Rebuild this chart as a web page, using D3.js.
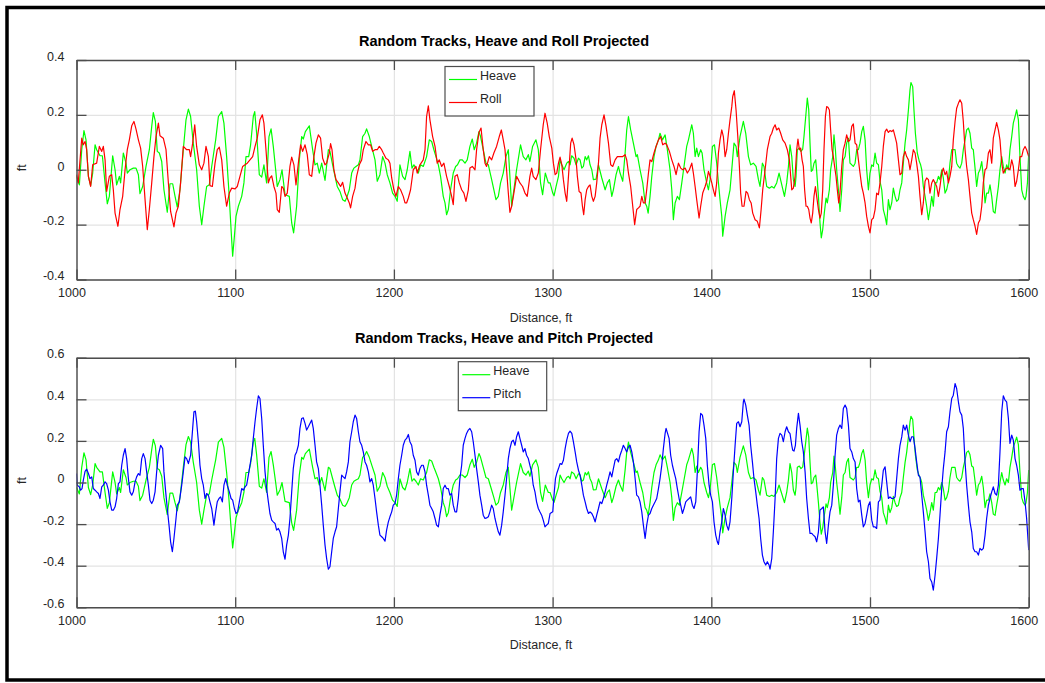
<!DOCTYPE html>
<html>
<head>
<meta charset="utf-8">
<script src="https://cdn.jsdelivr.net/npm/d3@7"></script>
<style>
  body { margin: 0; background: #fff; }
  text { font-family: "Liberation Sans", Arial, Helvetica, sans-serif; }
</style>
</head>
<body>
<svg id="fig" width="1045" height="683"></svg>
<script>
// Tick values for the shared distance axis and the two response axes
const distanceTicks = [1000, 1100, 1200, 1300, 1400, 1500, 1600];
const rollPanelTicks = [-0.4, -0.2, 0, 0.2, 0.4];
const pitchPanelTicks = [-0.6, -0.4, -0.2, 0, 0.2, 0.4, 0.6];

// Heave response [distance ft, displacement ft]
const heave = [
  [1000.0,-0.024],[1001.8,-0.055],[1003.3,0.073],[1004.7,0.143],[1006.0,0.109],[1007.5,-0.024],[1008.9,-0.058],
  [1010.2,-0.012],[1011.7,0.091],[1012.7,0.073],[1014.8,0.051],[1016.3,0.051],[1018.0,-0.048],[1019.4,-0.124],
  [1020.7,-0.097],[1022.8,0.051],[1024.3,0],[1025.3,-0.055],[1027.0,-0.024],[1027.8,-0.048],[1029.5,0.061],
  [1031.2,0.024],[1032.0,-0.012],[1033.7,0],[1035.8,0.006],[1037.5,0.006],[1039.0,-0.018],[1040.0,-0.087],
  [1041.7,-0.061],[1043.8,0.012],[1045.9,0.073],[1047.4,0.158],[1048.4,0.208],[1049.7,0.176],[1050.9,0.067],
  [1052.2,0.061],[1053.7,0.030],[1055.1,-0.073],[1057.2,-0.155],[1058.9,-0.051],[1060.6,-0.051],[1062.1,-0.097],
  [1063.5,-0.136],[1065.2,-0.073],[1067.3,0.073],[1069.0,0.182],[1070.5,0.221],[1071.9,0.194],[1073.6,0.097],
  [1075.7,0],[1077.4,-0.133],[1078.9,-0.2],[1080.3,-0.133],[1082.0,-0.061],[1083.7,-0.055],[1085.2,0.012],
  [1086.2,0.051],[1087.7,0.109],[1089.4,0.194],[1091.5,0.212],[1092.9,0.170],[1094.6,0.048],[1096.1,-0.085],
  [1097.4,-0.218],[1098.4,-0.315],[1099.5,-0.242],[1100.5,-0.170],[1102.0,-0.133],[1104.1,-0.097],[1105.5,-0.048],
  [1106.8,0.048],[1108.5,0.048],[1109.7,0.091],[1111.4,0.194],[1112.3,0.212],[1113.5,0.133],[1115.2,-0.018],
  [1116.7,-0.027],[1118.1,0.018],[1119.8,-0.048],[1121.3,0.121],[1122.6,0.149],[1124.0,0.085],[1125.5,0],
  [1126.5,-0.061],[1128.2,-0.036],[1129.5,0],[1131.4,-0.091],[1134.1,-0.097],[1135.6,-0.194],[1136.8,-0.230],
  [1138.7,-0.133],[1140.4,0.036],[1141.9,0.121],[1142.9,0.112],[1144.2,0.139],[1146.7,0.160],[1148.8,0.073],
  [1150.3,0.018],[1151.7,0.024],[1153.0,-0.012],[1154.5,0.024],[1156.6,-0.039],[1158.7,0.073],[1159.7,0.067],
  [1161.4,0.018],[1162.9,-0.024],[1164.3,-0.061],[1166.0,-0.079],[1167.7,-0.109],[1169.2,-0.115],[1170.2,-0.103],
  [1171.9,-0.073],[1173.4,-0.012],[1174.8,0.006],[1176.1,0.012],[1177.6,0.018],[1178.6,0.036],[1180.3,0.121],
  [1181.8,0.133],[1182.8,0.149],[1184.5,0.121],[1186.0,0.085],[1188.1,0.036],[1189.5,-0.042],[1191.2,-0.018],
  [1192.9,0.048],[1194.4,0.024],[1195.8,-0.018],[1197.5,-0.048],[1199.2,-0.085],[1200.7,-0.097],[1202.1,-0.115],
  [1203.8,0.018],[1205.5,-0.024],[1207.0,-0.036],[1208.4,0],[1210.1,0.067],[1211.4,0.006],[1212.6,0.018],
  [1213.9,0.006],[1215.4,-0.012],[1216.8,0.018],[1218.5,0.012],[1220.6,0.048],[1222.3,0.109],[1223.8,0.103],
  [1225.2,0.073],[1226.5,0.048],[1228.0,0.018],[1229.4,-0.024],[1231.1,-0.097],[1232.2,-0.121],[1233.2,-0.164],
  [1234.3,-0.145],[1235.7,-0.073],[1237.4,-0.012],[1238.9,0.012],[1240.1,0.018],[1241.6,0.036],[1243.1,0.036],
  [1244.8,0.024],[1246.2,0.036],[1247.9,0.085],[1249.4,0.112],[1250.6,0.073],[1252.1,0.097],[1253.6,0.139],
  [1254.6,0.121],[1256.3,0.073],[1258.0,0.024],[1259.5,0.018],[1261.6,-0.036],[1263.0,-0.073],[1264.3,-0.109],
  [1265.8,-0.097],[1267.2,-0.048],[1268.9,-0.012],[1270.6,0.048],[1272.1,0.073],[1274.2,-0.133],[1277.3,0],
  [1279.8,0.091],[1281.5,0.048],[1283.2,0.036],[1284.7,0.055],[1285.7,0.030],[1287.4,0.085],[1289.5,0.109],
  [1291.0,0.073],[1292.4,-0.048],[1293.7,-0.091],[1295.4,-0.012],[1297.3,-0.048],[1298.4,-0.048],[1300.1,-0.085],
  [1300.9,-0.095],[1302.2,-0.061],[1303.7,-0.024],[1304.7,0.036],[1305.8,0.018],[1307.2,0],[1308.9,0.024],
  [1310.0,0.030],[1311.0,0.018],[1312.0,0.051],[1313.5,0.042],[1314.8,0.018],[1316.3,0.042],[1317.3,0.036],
  [1318.4,0.006],[1319.4,0.012],[1320.5,0.048],[1321.5,0.036],[1322.6,0.051],[1323.6,0.018],[1324.7,0],
  [1325.7,-0.036],[1327.4,-0.034],[1328.9,0.018],[1331.0,-0.030],[1333.1,-0.073],[1334.5,-0.048],[1335.8,-0.036],
  [1337.3,-0.097],[1338.3,-0.073],[1340.0,-0.018],[1341.5,0.012],[1342.5,-0.012],[1344.2,-0.042],[1345.7,0.061],
  [1346.7,0.145],[1347.8,0.194],[1349.2,0.145],[1350.9,0.097],[1352.6,0.048],[1353.4,0.055],[1355.1,0],
  [1356.8,-0.048],[1358.3,-0.121],[1359.3,-0.133],[1360.2,-0.158],[1361.4,-0.097],[1362.5,-0.024],[1363.9,0.048],
  [1365.2,0.085],[1366.7,0.109],[1367.7,0.133],[1369.2,0.109],[1370.9,0.127],[1372.3,0.073],[1374.0,0],
  [1375.1,-0.073],[1376.1,-0.182],[1377.2,-0.121],[1378.6,-0.097],[1379.9,-0.109],[1381.4,-0.048],[1382.8,0.012],
  [1384.5,0.085],[1385.6,0.109],[1387.7,0.164],[1388.7,0.133],[1389.8,0.048],[1390.8,0.079],[1391.9,0.048],
  [1393.3,0.073],[1394.2,0.061],[1395.4,0],[1397.1,-0.048],[1398.2,-0.073],[1399.2,-0.036],[1400.7,0.085],
  [1402.0,0.091],[1403.4,0.024],[1404.5,-0.048],[1405.5,-0.109],[1406.6,-0.170],[1407.2,-0.242],[1408.7,-0.170],
  [1410.1,-0.121],[1411.8,-0.073],[1412.9,0],[1414.3,0.097],[1415.6,0.085],[1416.4,0.048],[1418.1,0.121],
  [1420.2,0.176],[1421.7,0.133],[1423.4,0.048],[1424.8,0.018],[1426.5,0.024],[1428.2,0.012],[1429.7,-0.036],
  [1430.7,-0.061],[1432.2,0.024],[1433.2,0.012],[1434.9,-0.061],[1436.6,-0.067],[1438.1,-0.061],[1439.5,-0.067],
  [1441.2,-0.048],[1442.7,-0.012],[1443.9,-0.042],[1446.1,-0.097],[1447.5,-0.048],[1448.6,0.012],[1449.6,0.091],
  [1450.7,0.048],[1451.7,-0.036],[1452.8,-0.061],[1453.4,-0.024],[1454.2,0.073],[1455.5,0.079],[1456.5,0.067],
  [1457.6,0.075],[1458.4,0.121],[1459.5,0.194],[1460.5,0.261],[1461.4,0.218],[1462.2,0.097],[1463.0,-0.006],
  [1463.9,0],[1464.7,0.024],[1465.8,0.036],[1466.4,-0.006],[1467.5,-0.097],[1468.5,-0.194],[1469.3,-0.248],
  [1470.2,-0.218],[1471.2,-0.158],[1472.3,-0.103],[1473.1,-0.121],[1474.4,-0.073],[1475.2,0],[1476.5,0.048],
  [1477.3,0.127],[1478.2,0.073],[1479.0,0],[1480.1,-0.073],[1481.1,-0.152],[1482.2,-0.073],[1483.2,0.036],
  [1484.3,0.048],[1485.3,0.097],[1486.4,0.115],[1487.4,0.024],[1488.5,0.018],[1489.5,0.012],[1490.6,0.024],
  [1491.6,0.073],[1492.7,0.073],[1493.7,0.097],[1494.8,0.139],[1495.8,0.158],[1496.9,0.109],[1497.9,0],
  [1499.0,-0.073],[1500.0,-0.012],[1501.1,0.018],[1502.1,0.012],[1503.2,0.061],[1504.2,0.024],[1505.3,0.018],
  [1506.3,-0.042],[1507.4,-0.073],[1508.4,-0.145],[1509.5,-0.170],[1510.5,-0.200],[1511.6,-0.109],[1512.6,-0.145],
  [1513.7,-0.121],[1514.7,-0.067],[1515.8,-0.097],[1516.8,-0.115],[1517.9,-0.109],[1518.9,-0.073],[1520.0,-0.048],
  [1521.0,0.024],[1522.1,0.097],[1523.1,0.145],[1524.2,0.218],[1525.2,0.291],[1525.8,0.318],[1526.9,0.303],
  [1527.7,0.218],[1528.6,0.133],[1529.8,0.061],[1531.1,0.030],[1531.9,0.018],[1532.6,0],[1533.6,-0.061],
  [1534.7,-0.097],[1535.7,-0.133],[1536.8,-0.182],[1537.8,-0.145],[1538.9,-0.097],[1539.9,-0.133],[1541.0,-0.048],
  [1542.0,-0.048],[1543.1,-0.024],[1544.1,-0.036],[1545.2,0],[1546.2,-0.030],[1547.3,-0.085],[1548.3,-0.073],
  [1549.4,-0.042],[1550.4,0.024],[1551.5,0.073],[1552.5,0.073],[1553.6,0.073],[1554.6,0.024],[1555.7,0.012],
  [1556.7,0.006],[1557.8,0.024],[1558.8,0.073],[1559.9,0.109],[1560.9,0.145],[1562.0,0.152],[1563.0,0.133],
  [1564.1,0.079],[1565.1,0.073],[1566.2,0.006],[1567.2,-0.061],[1568.3,-0.012],[1569.3,0],[1570.4,0.030],
  [1571.4,-0.024],[1572.5,-0.121],[1573.5,-0.085],[1574.6,-0.085],[1575.6,-0.055],[1576.7,-0.097],[1577.7,-0.152],
  [1578.8,-0.158],[1579.8,-0.109],[1580.9,-0.061],[1581.9,0],[1583.0,0.048],[1584.0,0.012],[1585.1,-0.012],
  [1586.1,0.018],[1587.2,0],[1588.2,0.073],[1589.3,0.121],[1590.3,0.170],[1591.4,0.194],[1592.4,0.218],
  [1593.5,0.182],[1594.5,0.048],[1595.6,-0.073],[1596.6,-0.097],[1597.7,-0.109],[1598.3,-0.097],[1599.2,-0.048],
  [1600.0,0.060]
];

// Roll response [distance ft, displacement ft]
const roll = [
  [1000.0,-0.018],[1001.1,-0.048],[1003.3,0.115],[1004.3,0.091],[1005.4,0.103],[1006.4,0.073],[1007.5,-0.024],
  [1008.9,-0.061],[1010.2,0.018],[1012.7,0.024],[1014.4,0.085],[1015.9,0.067],[1016.9,0.085],[1018.0,0.036],
  [1019.0,-0.079],[1020.7,-0.024],[1022.2,-0.018],[1023.2,-0.073],[1024.3,-0.158],[1026.1,-0.206],[1027.4,-0.145],
  [1029.1,-0.097],[1030.6,0],[1032.0,0.073],[1033.3,0.109],[1034.8,0.160],[1036.2,0.176],[1037.5,0.148],
  [1039.0,0.109],[1040.4,0.079],[1041.7,0.012],[1043.2,-0.109],[1044.6,-0.218],[1045.9,-0.145],[1047.4,-0.048],
  [1048.8,0.048],[1050.1,0.121],[1051.6,0.170],[1052.6,0.124],[1054.7,0.115],[1056.4,0.073],[1057.9,-0.048],
  [1059.3,-0.152],[1061.4,-0.208],[1062.7,-0.158],[1064.2,-0.133],[1065.6,-0.048],[1067.3,0.085],[1069.4,0.073],
  [1071.1,0.073],[1071.9,0.048],[1073.2,0.097],[1074.5,0.164],[1075.7,0.085],[1077.4,0.018],[1078.9,0],
  [1080.3,0.024],[1081.6,0.085],[1083.1,0.048],[1084.1,-0.058],[1085.6,-0.061],[1087.3,0.024],[1088.7,0.073],
  [1090.0,0.082],[1091.5,0.036],[1092.9,-0.061],[1094.6,-0.133],[1096.3,-0.085],[1097.8,-0.067],[1099.9,-0.070],
  [1101.3,-0.061],[1103.0,-0.024],[1104.7,0.012],[1106.2,0.018],[1107.6,0.024],[1109.3,0.036],[1111.0,0.048],
  [1112.5,0.085],[1113.9,0.115],[1115.6,0.182],[1117.1,0.200],[1118.1,0.170],[1119.4,0.073],[1120.9,-0.048],
  [1121.9,-0.030],[1123.0,-0.022],[1124.4,-0.061],[1125.7,-0.085],[1126.5,-0.145],[1127.8,-0.155],[1129.3,-0.061],
  [1130.3,-0.067],[1131.4,-0.097],[1132.8,-0.085],[1134.5,0.012],[1135.6,0.046],[1137.0,0.018],[1138.3,-0.055],
  [1139.8,0.024],[1141.2,0.091],[1142.5,0.067],[1144.0,0.091],[1145.4,0.055],[1146.7,-0.018],[1148.2,-0.024],
  [1149.6,0.048],[1150.9,0.097],[1152.4,0.127],[1153.8,0.115],[1155.1,0.042],[1156.6,0.018],[1157.6,0.024],
  [1159.3,0.061],[1160.1,0.095],[1161.0,0.073],[1162.2,0],[1163.5,-0.036],[1165.0,-0.048],[1166.4,-0.061],
  [1167.7,-0.046],[1169.2,-0.085],[1170.6,-0.103],[1171.9,-0.121],[1172.7,-0.139],[1174.0,-0.097],[1175.5,-0.067],
  [1176.5,-0.024],[1178.2,0.018],[1179.7,0.036],[1180.7,0.073],[1182.4,0.103],[1183.9,0.091],[1185.3,0.091],
  [1186.6,0.067],[1188.1,0.073],[1189.5,0.073],[1190.8,0.085],[1192.3,0.073],[1193.3,0.061],[1195.0,0.042],
  [1196.5,0.036],[1197.5,0.024],[1198.6,-0.030],[1200.0,-0.073],[1201.3,-0.097],[1202.8,-0.061],[1204.2,-0.073],
  [1205.9,-0.097],[1207.0,-0.121],[1208.0,-0.121],[1209.1,-0.103],[1210.5,-0.073],[1212.2,0],[1213.9,0.012],
  [1214.7,-0.012],[1216.4,0.018],[1218.5,0.036],[1219.6,0.073],[1220.6,0.194],[1221.7,0.233],[1222.7,0.182],
  [1224.4,0.121],[1225.9,0.085],[1227.3,0.024],[1228.6,0.036],[1230.1,0.012],[1231.5,0.024],[1233.2,-0.024],
  [1234.9,-0.061],[1236.4,-0.097],[1237.4,-0.127],[1238.5,-0.024],[1239.9,-0.018],[1241.2,-0.048],[1242.7,-0.073],
  [1244.1,-0.085],[1245.4,-0.115],[1246.9,-0.073],[1247.9,0.006],[1249.4,0.012],[1251.1,0],[1252.1,0.073],
  [1253.6,0.136],[1254.9,0.152],[1256.3,0.073],[1257.4,0.024],[1258.4,0.012],[1260.1,0.048],[1261.6,0.036],
  [1263.0,0.061],[1264.7,0.085],[1266.4,0.121],[1267.7,0.145],[1268.9,0.109],[1270.0,0.073],[1271.0,0],
  [1272.1,-0.085],[1273.1,-0.155],[1274.2,-0.133],[1275.6,-0.085],[1277.3,-0.024],[1278.4,-0.036],[1279.4,-0.048],
  [1281.1,-0.061],[1282.6,-0.085],[1284.0,-0.097],[1285.7,-0.024],[1286.8,0.006],[1287.8,-0.024],[1289.5,-0.036],
  [1291.0,-0.012],[1292.4,0.073],[1294.1,0.164],[1295.2,0.206],[1296.6,0.170],[1297.9,0.121],[1299.5,0.079],
  [1300.5,0.024],[1301.6,-0.018],[1302.6,-0.012],[1303.7,0.024],[1304.7,0.046],[1305.8,0.018],[1306.8,-0.036],
  [1307.9,-0.085],[1308.9,-0.115],[1310.0,-0.024],[1311.4,0.097],[1312.3,0.115],[1313.5,0.091],[1314.8,0.036],
  [1315.6,-0.024],[1316.7,-0.079],[1317.9,-0.085],[1318.8,-0.133],[1319.6,-0.164],[1320.5,-0.109],[1321.5,-0.073],
  [1322.6,-0.061],[1323.6,-0.055],[1324.7,-0.097],[1325.7,-0.115],[1326.8,-0.097],[1327.8,-0.048],[1328.9,0.024],
  [1329.9,0.115],[1331.0,0.164],[1332.4,0.200],[1333.7,0.158],[1335.2,0.097],[1336.6,0.018],[1337.9,0.012],
  [1339.4,0.036],[1340.8,0.048],[1342.5,0.048],[1344.2,0.048],[1345.7,0.055],[1346.7,0.036],[1347.8,-0.012],
  [1349.2,-0.061],[1350.5,-0.133],[1351.7,-0.200],[1353.0,-0.145],[1354.1,-0.139],[1355.1,-0.133],[1356.2,-0.097],
  [1357.2,-0.121],[1358.3,-0.121],[1359.3,-0.073],[1360.4,-0.012],[1361.4,0.036],[1362.5,0.030],[1363.9,0.061],
  [1365.2,0.085],[1366.7,0.109],[1368.1,0.121],[1369.4,0.091],[1370.9,0.097],[1371.9,0.091],[1373.6,0.067],
  [1375.1,0.036],[1376.5,0.012],[1377.8,-0.018],[1379.3,0.024],[1380.7,0.006],[1382.0,0],[1383.5,0.006],
  [1384.9,-0.012],[1386.2,0],[1387.7,0.024],[1388.7,-0.012],[1389.8,-0.061],[1390.8,-0.109],[1392.3,-0.176],
  [1393.3,-0.133],[1394.6,-0.085],[1396.1,-0.061],[1397.1,-0.042],[1398.2,-0.006],[1399.2,-0.024],[1400.3,-0.048],
  [1401.3,-0.073],[1402.4,-0.097],[1403.4,-0.048],[1404.5,0.061],[1405.5,0.109],[1406.6,0.145],[1407.6,0.121],
  [1408.7,0.048],[1409.7,0.073],[1410.8,0.133],[1411.8,0.182],[1412.9,0.230],[1413.5,0.267],[1414.5,0.288],
  [1415.6,0.218],[1416.7,0.121],[1417.7,0.012],[1418.5,-0.085],[1419.4,-0.133],[1420.6,-0.133],[1421.9,-0.079],
  [1422.9,-0.085],[1424.0,-0.109],[1425.1,-0.121],[1426.1,-0.158],[1427.6,-0.182],[1429.0,-0.188],[1430.3,-0.212],
  [1431.4,-0.145],[1432.4,-0.073],[1433.9,0],[1435.3,0.073],[1437.0,0.121],[1438.1,0.133],[1439.1,0.152],
  [1440.2,0.164],[1441.2,0.145],[1442.5,0.152],[1443.7,0.133],[1445.0,0.109],[1446.5,0.097],[1447.9,0.073],
  [1449.2,0.036],[1450.7,-0.073],[1451.7,-0.067],[1452.8,-0.024],[1453.8,0.073],[1454.6,0.112],[1455.5,0.073],
  [1456.3,0.079],[1457.2,0.036],[1458.0,0.012],[1458.8,-0.073],[1459.7,-0.133],[1460.5,-0.133],[1461.4,-0.145],
  [1462.2,-0.176],[1463.0,-0.194],[1463.9,-0.158],[1464.7,-0.097],[1465.6,-0.061],[1466.4,-0.097],[1467.5,-0.145],
  [1468.5,-0.176],[1469.3,-0.158],[1470.2,-0.073],[1471.0,0.073],[1471.9,0.194],[1472.7,0.230],[1473.5,0.228],
  [1474.4,0.218],[1475.2,0.145],[1476.1,0.073],[1476.9,0.048],[1477.7,0.012],[1478.6,-0.024],[1479.4,-0.073],
  [1480.3,-0.121],[1481.1,-0.085],[1482.2,0.012],[1483.2,0.073],[1484.3,0.097],[1485.3,0.127],[1486.4,0.103],
  [1487.4,0.109],[1488.5,0.158],[1489.5,0.167],[1490.6,0.097],[1491.6,0.091],[1492.7,0.036],[1493.7,-0.012],
  [1494.8,-0.061],[1495.8,-0.085],[1496.9,-0.121],[1497.9,-0.170],[1499.0,-0.206],[1500.0,-0.230],[1501.1,-0.182],
  [1502.1,-0.176],[1503.2,-0.145],[1504.2,-0.085],[1505.3,-0.091],[1506.3,-0.048],[1507.4,0.012],[1508.4,0.085],
  [1509.5,0.139],[1510.5,0.148],[1511.6,0.136],[1512.6,0.143],[1513.7,0.139],[1514.7,0.145],[1515.8,0.121],
  [1516.8,0.097],[1517.9,0.036],[1518.9,-0.018],[1520.0,-0.012],[1521.0,0.048],[1522.1,0.067],[1523.1,0.048],
  [1524.2,0.036],[1525.2,0],[1526.3,0.036],[1527.3,0.073],[1528.4,0.061],[1529.4,0.024],[1530.5,-0.024],
  [1531.5,-0.097],[1532.6,-0.164],[1533.6,-0.121],[1534.7,-0.042],[1535.7,-0.030],[1536.8,-0.036],[1537.8,-0.085],
  [1538.9,-0.048],[1539.9,-0.036],[1541.0,-0.048],[1542.0,-0.061],[1543.1,-0.097],[1544.1,-0.061],[1545.2,-0.012],
  [1546.2,0.006],[1547.3,-0.018],[1548.3,-0.006],[1549.4,-0.048],[1550.4,-0.024],[1551.5,0.012],[1552.5,0.109],
  [1553.6,0.176],[1554.6,0.224],[1555.7,0.242],[1556.7,0.255],[1557.8,0.242],[1558.8,0.176],[1559.9,0.073],
  [1560.9,0.012],[1562.0,-0.036],[1563.0,-0.097],[1564.1,-0.158],[1565.1,-0.182],[1566.2,-0.206],[1567.2,-0.236],
  [1568.3,-0.194],[1569.3,-0.182],[1570.4,-0.133],[1571.4,-0.048],[1572.5,0],[1573.5,0.006],[1574.6,0.061],
  [1575.6,0.073],[1576.7,0.024],[1577.7,0.115],[1578.8,0.145],[1579.8,0.172],[1580.9,0.145],[1581.9,0.109],
  [1583.0,0.024],[1584.0,-0.012],[1585.1,0],[1586.1,0.006],[1587.2,0.006],[1588.2,0],[1589.3,0.036],
  [1590.3,0.012],[1591.4,-0.061],[1592.4,-0.042],[1593.5,0],[1594.5,0.048],[1595.6,0.048],[1596.6,0.073],
  [1597.7,0.085],[1598.7,0.073],[1600.0,0.048]
];

// Pitch response [distance ft, displacement ft]
const pitch = [
  [1000.0,0.043],[1000.5,-0.013],[1001.8,-0.021],[1002.6,-0.037],[1003.5,-0.029],[1004.3,0.011],[1005.4,0.054],
  [1006.4,0.064],[1007.5,0.043],[1008.5,0.019],[1009.6,0.027],[1010.6,-0.029],[1011.7,-0.037],[1012.7,-0.045],
  [1013.8,-0.053],[1014.8,-0.077],[1015.9,-0.021],[1016.9,-0.013],[1018.0,0.003],[1019.0,-0.005],[1020.1,-0.037],
  [1021.1,-0.093],[1022.2,-0.133],[1023.2,-0.133],[1024.3,-0.117],[1025.3,-0.077],[1026.4,-0.005],[1027.4,0.003],
  [1028.5,0.083],[1029.5,0.131],[1030.6,0.163],[1031.6,0.115],[1032.7,0.019],[1033.7,-0.045],[1034.8,-0.061],
  [1035.8,-0.045],[1036.9,0.003],[1037.9,0.027],[1039.0,0.043],[1040.0,0.035],[1041.1,0.115],[1042.1,0.139],
  [1043.2,0.115],[1044.2,0.051],[1045.3,-0.013],[1046.3,-0.085],[1047.4,-0.101],[1048.4,-0.085],[1049.5,-0.045],
  [1050.5,0.051],[1051.6,0.131],[1053.0,0.179],[1054.3,0.163],[1055.1,0.051],[1056.2,-0.045],[1057.2,-0.125],
  [1058.3,-0.205],[1059.3,-0.285],[1060.4,-0.333],[1061.4,-0.269],[1062.7,-0.173],[1063.5,-0.109],[1064.8,-0.093],
  [1066.3,-0.013],[1067.3,0.051],[1068.4,0.123],[1069.4,0.115],[1070.5,0.091],[1071.9,0.131],[1073.2,0.260],
  [1074.0,0.340],[1074.9,0.343],[1075.7,0.292],[1076.8,0.196],[1077.8,0.083],[1078.9,0.019],[1079.9,-0.013],
  [1081.0,-0.077],[1082.0,-0.053],[1083.1,-0.061],[1084.1,-0.093],[1085.2,-0.125],[1086.2,-0.181],[1086.6,-0.205],
  [1087.7,-0.141],[1088.7,-0.093],[1089.8,-0.077],[1090.8,-0.069],[1091.9,-0.093],[1092.9,-0.013],[1094.0,0.019],
  [1095.0,-0.013],[1096.3,-0.045],[1097.4,-0.077],[1098.4,-0.085],[1099.5,-0.125],[1100.5,-0.149],[1101.5,-0.141],
  [1102.6,-0.093],[1104.1,-0.029],[1105.1,-0.037],[1106.2,-0.021],[1107.2,-0.013],[1108.3,0.035],[1109.3,0.083],
  [1110.4,0.131],[1111.4,0.212],[1112.5,0.292],[1113.5,0.356],[1114.6,0.417],[1115.6,0.404],[1116.7,0.308],
  [1117.7,0.179],[1118.8,0.051],[1119.8,-0.029],[1120.9,-0.093],[1121.9,-0.149],[1123.0,-0.181],[1124.0,-0.189],
  [1125.1,-0.197],[1126.1,-0.229],[1127.2,-0.221],[1128.2,-0.237],[1129.3,-0.269],[1130.3,-0.333],[1131.4,-0.369],
  [1132.4,-0.301],[1133.5,-0.253],[1134.5,-0.173],[1135.6,-0.045],[1136.6,0.067],[1137.7,0.131],[1138.7,0.147],
  [1139.8,0.179],[1140.8,0.260],[1141.9,0.308],[1142.9,0.311],[1144.0,0.284],[1145.0,0.252],[1146.1,0.268],
  [1147.1,0.284],[1148.2,0.300],[1149.2,0.260],[1150.3,0.179],[1151.3,0.099],[1152.4,0.067],[1153.4,-0.013],
  [1154.5,-0.109],[1155.5,-0.205],[1156.6,-0.301],[1157.6,-0.365],[1158.7,-0.417],[1159.7,-0.405],[1160.8,-0.333],
  [1161.8,-0.269],[1162.9,-0.237],[1163.9,-0.213],[1165.0,-0.125],[1166.0,-0.045],[1167.1,0.035],[1168.1,0.027],
  [1169.2,0.019],[1170.2,0.051],[1171.3,0.099],[1172.3,0.196],[1173.4,0.244],[1174.4,0.292],[1175.5,0.324],
  [1176.5,0.308],[1177.6,0.244],[1178.6,0.196],[1179.7,0.179],[1180.7,0.147],[1181.8,0.099],[1182.8,0.083],
  [1183.9,0.051],[1184.9,0.003],[1186.0,0.019],[1187.0,-0.013],[1188.1,-0.077],[1189.1,-0.141],[1190.2,-0.205],
  [1191.2,-0.253],[1192.3,-0.261],[1193.3,-0.269],[1194.4,-0.282],[1195.4,-0.229],[1196.5,-0.189],[1197.5,-0.165],
  [1198.6,-0.141],[1199.6,-0.109],[1200.7,-0.101],[1201.7,-0.061],[1202.8,0.019],[1203.8,0.083],[1204.9,0.131],
  [1205.9,0.179],[1207.0,0.204],[1208.0,0.212],[1209.1,0.231],[1210.1,0.196],[1211.2,0.179],[1212.2,0.131],
  [1213.3,0.107],[1214.3,0.051],[1215.4,0.035],[1216.4,0.067],[1217.5,0.083],[1218.5,0.083],[1219.6,0.051],
  [1220.6,-0.013],[1221.7,-0.061],[1222.7,-0.109],[1223.8,-0.125],[1224.8,-0.141],[1225.9,-0.173],[1226.9,-0.205],
  [1228.0,-0.213],[1229.0,-0.157],[1230.1,-0.109],[1231.1,-0.029],[1232.2,-0.013],[1233.2,-0.029],[1234.3,-0.029],
  [1235.3,-0.061],[1236.4,-0.053],[1237.4,-0.109],[1238.5,-0.141],[1239.5,-0.141],[1240.6,-0.077],[1241.6,0.019],
  [1242.7,0.083],[1243.7,0.179],[1244.8,0.212],[1245.8,0.236],[1246.9,0.252],[1247.9,0.260],[1249.0,0.244],
  [1250.0,0.196],[1251.1,0.131],[1252.1,0.067],[1253.2,0.003],[1254.2,-0.061],[1255.3,-0.109],[1256.3,-0.157],
  [1257.4,-0.173],[1258.4,-0.170],[1259.5,-0.165],[1260.5,-0.141],[1261.6,-0.109],[1262.6,-0.125],[1263.7,-0.173],
  [1264.7,-0.205],[1265.8,-0.237],[1266.8,-0.253],[1267.9,-0.205],[1268.9,-0.141],[1270.0,-0.061],[1271.0,0.019],
  [1272.1,0.115],[1273.1,0.163],[1274.2,0.196],[1275.2,0.204],[1276.3,0.179],[1277.3,0.220],[1278.4,0.244],
  [1279.4,0.212],[1280.5,0.179],[1281.5,0.147],[1282.6,0.163],[1283.6,0.131],[1284.7,0.115],[1285.7,0.083],
  [1286.8,0.051],[1287.8,-0.013],[1288.9,-0.045],[1289.9,-0.093],[1291.0,-0.125],[1292.0,-0.141],[1293.1,-0.157],
  [1294.1,-0.181],[1295.2,-0.213],[1296.2,-0.205],[1297.3,-0.197],[1298.4,-0.149],[1300.1,-0.141],[1300.9,-0.061],
  [1301.8,0.019],[1302.6,0.043],[1303.7,0.067],[1304.7,0.091],[1305.8,0.087],[1306.8,0.107],[1307.9,0.163],
  [1308.9,0.204],[1310.0,0.236],[1311.0,0.247],[1312.1,0.236],[1313.1,0.196],[1314.2,0.147],[1315.2,0.099],
  [1316.3,0.059],[1317.3,0.035],[1318.4,-0.013],[1319.4,-0.061],[1320.5,-0.093],[1321.5,-0.125],[1322.6,-0.149],
  [1323.6,-0.141],[1324.7,-0.149],[1325.7,-0.165],[1326.8,-0.189],[1327.8,-0.157],[1328.9,-0.125],[1329.9,-0.093],
  [1331.0,-0.101],[1332.0,-0.077],[1333.1,-0.045],[1334.1,-0.013],[1335.2,0.019],[1336.2,0.051],[1337.3,0.027],
  [1338.3,0.067],[1339.4,0.107],[1340.4,0.115],[1341.5,0.099],[1342.5,0.131],[1343.6,0.155],[1344.6,0.179],
  [1345.7,0.163],[1346.7,0.147],[1347.8,0.171],[1348.8,0.179],[1349.9,0.147],[1350.9,0.099],[1352.0,0.019],
  [1353.0,-0.061],[1354.1,-0.069],[1355.1,-0.093],[1356.2,-0.141],[1357.2,-0.205],[1358.3,-0.269],[1359.3,-0.205],
  [1360.4,-0.157],[1361.4,-0.149],[1362.5,-0.125],[1363.5,-0.109],[1364.6,-0.093],[1365.6,-0.077],[1366.7,-0.029],
  [1367.7,0.019],[1368.8,0.083],[1369.8,0.163],[1370.9,0.236],[1371.5,0.260],[1372.3,0.240],[1373.4,0.212],
  [1374.4,0.131],[1375.5,0.083],[1376.5,0.051],[1377.6,0.019],[1378.6,-0.029],[1379.7,-0.077],[1380.7,-0.109],
  [1381.8,-0.149],[1382.8,-0.125],[1383.9,-0.093],[1384.9,-0.085],[1386.0,-0.077],[1387.0,-0.069],[1388.1,-0.109],
  [1389.1,-0.125],[1390.2,-0.093],[1391.2,0.051],[1392.3,0.244],[1393.3,0.332],[1394.4,0.324],[1395.4,0.276],
  [1396.5,0.212],[1397.5,0.083],[1398.6,-0.013],[1399.6,-0.061],[1400.7,-0.093],[1401.7,-0.189],[1402.8,-0.253],
  [1403.8,-0.285],[1404.5,-0.298],[1405.5,-0.237],[1406.6,-0.189],[1407.6,-0.125],[1408.7,-0.157],[1409.7,-0.205],
  [1410.8,-0.229],[1411.8,-0.189],[1412.9,-0.077],[1413.9,0.051],[1415.0,0.179],[1416.0,0.284],[1417.1,0.292],
  [1418.1,0.268],[1419.2,0.292],[1420.2,0.388],[1420.6,0.401],[1421.7,0.372],[1422.7,0.324],[1423.8,0.276],
  [1424.8,0.179],[1425.9,0.099],[1426.9,0.019],[1428.0,-0.045],[1429.0,-0.109],[1430.1,-0.173],[1431.1,-0.269],
  [1432.2,-0.349],[1433.2,-0.381],[1434.3,-0.397],[1435.3,-0.381],[1436.4,-0.397],[1437.0,-0.417],[1438.1,-0.365],
  [1439.1,-0.237],[1440.2,-0.077],[1441.2,0.115],[1442.3,0.212],[1443.3,0.236],[1444.4,0.228],[1445.4,0.196],
  [1446.5,0.244],[1447.5,0.268],[1448.6,0.244],[1449.6,0.235],[1450.7,0.179],[1451.3,0.155],[1452.1,0.151],
  [1453.0,0.179],[1453.8,0.260],[1454.9,0.332],[1455.9,0.276],[1457.0,0.196],[1458.0,0.147],[1459.1,0.051],
  [1460.1,-0.077],[1461.2,-0.173],[1462.2,-0.245],[1463.3,-0.245],[1464.3,-0.253],[1465.4,-0.261],[1466.4,-0.285],
  [1467.5,-0.237],[1468.5,-0.133],[1469.6,-0.125],[1470.6,-0.117],[1471.7,-0.237],[1472.7,-0.293],[1473.8,-0.205],
  [1474.8,-0.141],[1475.9,-0.109],[1476.9,-0.013],[1478.0,0.131],[1479.0,0.228],[1480.1,0.260],[1481.1,0.276],
  [1482.2,0.260],[1483.2,0.356],[1484.3,0.372],[1485.3,0.356],[1486.4,0.276],[1487.4,0.163],[1488.5,0.147],
  [1489.5,0.115],[1490.6,0.099],[1491.6,-0.029],[1492.7,-0.093],[1493.7,-0.085],[1494.8,-0.157],[1495.8,-0.213],
  [1496.9,-0.197],[1497.9,-0.157],[1499.0,-0.109],[1500.0,-0.093],[1501.1,-0.181],[1502.1,-0.213],[1503.2,-0.213],
  [1504.2,-0.221],[1505.3,-0.093],[1506.3,-0.085],[1507.4,-0.013],[1508.4,0.059],[1509.5,0.075],[1510.5,0.003],
  [1511.6,-0.077],[1512.6,-0.069],[1513.7,-0.077],[1514.7,-0.077],[1515.8,-0.069],[1516.8,0.019],[1517.9,0.115],
  [1518.9,0.179],[1520.0,0.219],[1521.0,0.276],[1522.1,0.252],[1523.1,0.276],[1524.2,0.228],[1525.2,0.196],
  [1526.3,0.220],[1527.3,0.220],[1528.4,0.163],[1529.4,0.099],[1530.5,0.035],[1531.5,0.027],[1532.6,-0.061],
  [1533.6,-0.141],[1534.7,-0.237],[1535.7,-0.333],[1536.8,-0.381],[1537.8,-0.462],[1538.9,-0.478],[1539.9,-0.518],
  [1541.0,-0.446],[1542.0,-0.365],[1543.1,-0.269],[1544.1,-0.157],[1545.2,-0.029],[1546.2,0.067],[1547.3,0.147],
  [1548.3,0.244],[1549.4,0.268],[1550.4,0.340],[1551.5,0.404],[1552.5,0.420],[1553.6,0.476],[1554.6,0.452],
  [1555.7,0.388],[1556.7,0.340],[1557.8,0.324],[1558.8,0.260],[1559.9,0.099],[1560.9,-0.013],[1562.0,-0.109],
  [1563.0,-0.189],[1564.1,-0.237],[1565.1,-0.317],[1566.2,-0.333],[1567.2,-0.333],[1568.3,-0.349],[1569.3,-0.317],
  [1570.4,-0.325],[1571.4,-0.317],[1572.5,-0.253],[1573.5,-0.173],[1574.6,-0.109],[1575.6,-0.077],[1576.7,-0.045],
  [1577.7,-0.021],[1578.8,-0.053],[1579.8,-0.061],[1580.9,-0.013],[1581.9,0.147],[1583.0,0.340],[1584.0,0.417],
  [1585.1,0.396],[1586.1,0.388],[1587.2,0.308],[1588.2,0.188],[1589.3,0.228],[1590.3,0.204],[1591.4,0.115],
  [1592.4,0.083],[1593.5,0.035],[1594.5,-0.037],[1595.6,-0.029],[1596.6,-0.029],[1597.7,-0.093],[1598.7,-0.173],
  [1600.0,-0.325]
];

const GREEN = "#00ff00", RED = "#ff0000", BLUE = "#0000ff";
const AXIS = "#4d4d4d", GRID = "#e3e3e3", INK = "#262626";

const panels = [
  {
    title: "Random Tracks, Heave and Roll Projected",
    top: 60, bottom: 279.5, domain: [-0.4, 0.4], ticks: rollPanelTicks,
    titleY: 45.5, xlabelY: 322,
    series: [{ name: "Heave", data: heave, color: GREEN }, { name: "Roll", data: roll, color: RED }],
    legend: { x: 445, y: 66.5, w: 89, h: 49.5 }
  },
  {
    title: "Random Tracks, Heave and Pitch Projected",
    top: 357.7, bottom: 607.3, domain: [-0.6, 0.6], ticks: pitchPanelTicks,
    titleY: 343, xlabelY: 649,
    series: [{ name: "Heave", data: heave, color: GREEN }, { name: "Pitch", data: pitch, color: BLUE }],
    legend: { x: 458.3, y: 361.7, w: 88.4, h: 49 }
  }
];

// Plain hyphen-minus labels, e.g. "-0.4"
const valueLabel = d => String(d);

const svg = d3.select("#fig");
svg.append("rect").attr("width", 1045).attr("height", 683).attr("fill", "#fff");

// Figure frame
svg.append("rect")
  .attr("x", 7).attr("y", 7.5).attr("width", 1060).attr("height", 672.5)
  .attr("fill", "none").attr("stroke", "#000").attr("stroke-width", 3.5);

const left = 76.5, right = 1028.7;
const x = d3.scaleLinear().domain([1000, 1600]).range([left, right]);

panels.forEach(p => {
  const y = d3.scaleLinear().domain(p.domain).range([p.bottom, p.top]);
  const h = p.bottom - p.top, w = right - left;
  const g = svg.append("g");

  // Grid
  const gridX = g.append("g").attr("transform", `translate(0,${p.bottom})`)
    .call(d3.axisBottom(x).tickValues(distanceTicks).tickSize(-h).tickFormat(""));
  const gridY = g.append("g").attr("transform", `translate(${left},0)`)
    .call(d3.axisLeft(y).tickValues(p.ticks).tickSize(-w).tickFormat(""));
  [gridX, gridY].forEach(a => {
    a.select(".domain").remove();
    a.selectAll("line").attr("stroke", GRID).attr("stroke-width", 1.2);
  });

  // Data lines
  const clipId = "clip" + Math.round(p.top);
  svg.append("clipPath").attr("id", clipId).append("rect")
    .attr("x", left).attr("y", p.top).attr("width", w).attr("height", h);
  const line = d3.line().x(d => x(d[0])).y(d => y(d[1]));
  const lines = g.append("g").attr("clip-path", `url(#${clipId})`);
  p.series.forEach(s => {
    lines.append("path").datum(s.data)
      .attr("d", line).attr("fill", "none")
      .attr("stroke", s.color).attr("stroke-width", 1.2)
      .attr("stroke-linejoin", "round");
  });

  // Axes with inward ticks
  const styleAxis = a => {
    a.select(".domain").attr("stroke", AXIS).attr("stroke-width", 1.4);
    a.selectAll(".tick line").attr("stroke", AXIS).attr("stroke-width", 1.3);
    a.selectAll("text").attr("fill", INK).style("font-size", "12.5px")
      .style("font-family", '"Liberation Sans", Arial, sans-serif');
  };
  const ax = g.append("g").attr("transform", `translate(0,${p.bottom})`)
    .call(d3.axisBottom(x).tickValues(distanceTicks).tickSize(-10).tickSizeOuter(0).tickPadding(8.5).tickFormat(d3.format("d")));
  styleAxis(ax);
  ax.selectAll("text").attr("x", -5);
  const axTop = g.append("g").attr("transform", `translate(0,${p.top})`)
    .call(d3.axisTop(x).tickValues(distanceTicks).tickSize(-10).tickSizeOuter(0).tickFormat(""));
  styleAxis(axTop);
  const ay = g.append("g").attr("transform", `translate(${left},0)`)
    .call(d3.axisLeft(y).tickValues(p.ticks).tickSize(-10).tickSizeOuter(0).tickPadding(12).tickFormat(valueLabel));
  styleAxis(ay);
  ay.selectAll("text").attr("dy", "0.02em");
  const ayR = g.append("g").attr("transform", `translate(${right},0)`)
    .call(d3.axisRight(y).tickValues(p.ticks).tickSize(-10).tickSizeOuter(0).tickFormat(""));
  styleAxis(ayR);

  // Titles and labels
  g.append("text").attr("x", 504).attr("y", p.titleY).attr("text-anchor", "middle")
    .attr("font-weight", "bold").attr("font-size", 14.5).attr("fill", "#000").text(p.title);
  g.append("text").attr("x", 541).attr("y", p.xlabelY).attr("text-anchor", "middle")
    .attr("font-size", 12.5).attr("fill", INK).text("Distance, ft");
  const yMid = (p.top + p.bottom) / 2 - 2;
  g.append("text").attr("transform", `translate(26,${yMid}) rotate(-90)`)
    .attr("text-anchor", "middle").attr("font-size", 12.5).attr("fill", INK).text("ft");

  // Legend
  const L = p.legend;
  const lg = g.append("g").attr("transform", `translate(${L.x},${L.y})`);
  lg.append("rect").attr("width", L.w).attr("height", L.h)
    .attr("fill", "#fff").attr("stroke", AXIS).attr("stroke-width", 1.2);
  p.series.forEach((s, i) => {
    const ly = 13 + i * 23;
    lg.append("line").attr("x1", 4).attr("x2", 32).attr("y1", ly).attr("y2", ly)
      .attr("stroke", s.color).attr("stroke-width", 1.2);
    lg.append("text").attr("x", 35).attr("y", ly).attr("dy", "0.05em")
      .attr("font-size", 12.5).attr("fill", INK).text(s.name);
  });
});
</script>
</body>
</html>
